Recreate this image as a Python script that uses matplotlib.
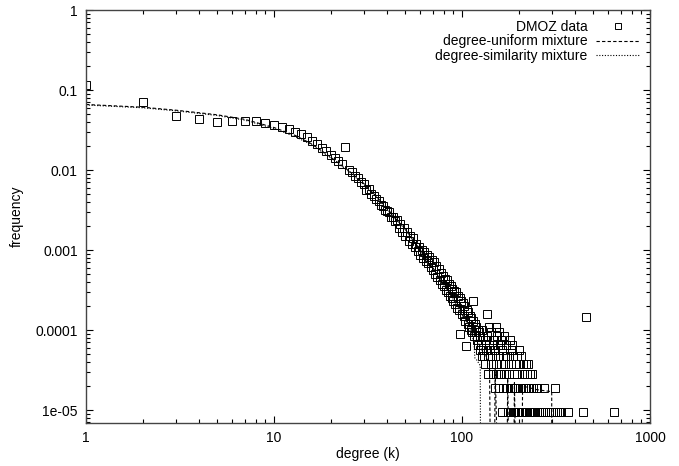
import numpy as np
import matplotlib
matplotlib.use("Agg")
import matplotlib.pyplot as plt
from matplotlib.ticker import LogLocator, FixedLocator, FixedFormatter, NullFormatter

plt.rcParams['font.family'] = ['Liberation Sans', 'DejaVu Sans']

# DMOZ degree distribution, k = 1..130
deg_main = np.arange(1, 131)
freq_main = [
    0.115, 0.070, 0.047, 0.043, 0.040, 0.041, 0.041, 0.041, 0.039, 0.037,
    0.035, 0.033, 0.030, 0.028, 0.026, 0.023, 0.021, 0.019, 0.0172, 0.0155,
    0.0142, 0.0128, 0.0118, 0.0195, 0.0101, 0.0094, 0.0085, 0.0079, 0.0071, 0.0066,
    0.0057, 0.0058, 0.0050, 0.0047, 0.0044, 0.0041, 0.0037, 0.0036, 0.0032, 0.0031,
    0.0030, 0.0026, 0.0026, 0.0023, 0.0024, 0.0019, 0.0021, 0.0017, 0.0019, 0.0015,
    0.0017, 0.0013, 0.0015, 0.0012, 0.0014, 0.0011, 0.0012, 0.00098, 0.0011, 0.00088,
    0.0010, 0.00080, 0.00095, 0.00072, 0.00086, 0.00068, 0.00082, 0.00062, 0.00076, 0.00056,
    0.00070, 0.00050, 0.00064, 0.00046, 0.00058, 0.00042, 0.00052, 0.00038, 0.00048, 0.00036,
    0.00044, 0.00032, 0.00042, 0.00030, 0.00038, 0.00027, 0.00036, 0.00025, 0.00033, 0.00023,
    0.00031, 0.00021, 0.00030, 0.00019, 0.00027, 0.00018, 0.00025, 0.000090, 0.00023, 0.00016,
    0.00022, 0.00015, 0.00020, 0.00013, 0.000063, 0.00018, 0.00012, 0.00017, 0.00011, 0.00015,
    0.00010, 0.00014, 0.000095, 0.00013, 0.00023, 0.000085, 0.00012, 0.000095, 0.00011, 0.000075,
    0.00010, 0.000066, 0.000095, 0.000057, 0.000085, 0.000066, 0.00010, 0.000047, 0.000085, 0.000057,
]

# tail: degrees sitting on each discrete frequency level
tail_levels = [9.4e-6, 1.9e-5, 2.8e-5, 3.8e-5, 4.7e-5, 5.7e-5, 6.6e-5, 7.5e-5, 8.5e-5, 9.4e-5,
               1.1e-4, 1.6e-4, 1.45e-4]
tail_degrees = [
    [163, 176, 180, 183, 186, 189, 192, 195, 198, 201, 205, 208, 212, 216, 219, 223, 227,
     231, 236, 241, 245, 250, 256, 262, 268, 275, 282, 290, 297, 305, 312, 320, 327, 335, 366, 438, 646],
    [150, 158, 165, 171, 174, 179, 185, 190, 194, 199, 204, 210, 215, 220, 226, 233, 240, 247, 252, 272, 312],
    [138, 147, 155, 160, 167, 177, 188, 196, 213, 222, 229, 236],
    [133, 143, 152, 161, 170, 182, 193, 200, 211, 218, 224],
    [131, 137, 145, 156, 166, 173, 187, 197, 206],
    [134, 141, 149, 164, 184, 202],
    [139, 146, 159, 172, 185],
    [132, 148, 162, 181],
    [136, 153, 168],
    [142, 157],
    [140, 151],
    [135],
    [457],
]

# model curves (values below the axis draw as drops)
uni_k = [1, 2, 3, 4, 5, 7, 10, 13, 16, 20, 25, 30, 35, 40, 50, 60, 70, 80, 90, 100,
         110, 120, 130, 140, 146, 150, 169, 175, 184, 190, 203, 210, 250, 300, 301]
uni_f = [0.066, 0.061, 0.056, 0.052, 0.049, 0.043, 0.034, 0.027, 0.021, 0.0145,
         0.0098, 0.0068, 0.0047, 0.0033, 0.0018, 0.00100, 0.00060, 0.00038, 0.00025, 0.00016,
         0.00011, 0.000075, 0.000052, 0.000038, 1e-9, 0.000032, 1e-9, 0.000025, 1e-9, 0.000022,
         1e-9, 0.000020, 0.000018, 0.000017, 1e-9]

sim_k = [1, 2, 3, 4, 5, 7, 10, 13, 16, 20, 25, 30, 35, 40, 50, 60, 70, 80, 90, 100,
         110, 114, 116, 117, 120, 125, 127]
sim_f = [0.065, 0.060, 0.055, 0.051, 0.048, 0.042, 0.033, 0.026, 0.0205, 0.0142,
         0.0096, 0.0066, 0.0046, 0.0032, 0.0018, 0.00098, 0.00059, 0.00037, 0.00024, 0.000155,
         0.000100, 0.000080, 0.000066, 0.000045, 0.000042, 0.000036, 1e-9]

fig = plt.figure(figsize=(6.79, 4.66), dpi=100)
ax = fig.add_axes([0.1267, 0.0923, 0.8306, 0.8862])

mk = dict(marker='s', markersize=5.8, markerfacecolor='none', markeredgecolor='black',
          markeredgewidth=0.7, linestyle='none')
ax.plot(deg_main, freq_main, label='DMOZ data', **mk)
for lev, ks in zip(tail_levels, tail_degrees):
    ax.plot(ks, [lev] * len(ks), **mk)

ax.plot(uni_k, uni_f, color='black', lw=0.8, dashes=(3, 2), label='degree-uniform mixture')
ax.plot(sim_k, sim_f, color='black', lw=0.8, dashes=(1, 1.5), label='degree-similarity mixture')

ax.set_xscale('log')
ax.set_yscale('log', nonpositive='clip')
ax.set_xlim(1, 1000)
ax.set_ylim(6.9e-6, 1)

ax.xaxis.set_major_locator(FixedLocator([1, 10, 100, 1000]))
ax.xaxis.set_major_formatter(FixedFormatter(['1', '10', '100', '1000']))
ax.yaxis.set_major_locator(FixedLocator([1e-5, 1e-4, 1e-3, 1e-2, 0.1, 1]))
ax.yaxis.set_major_formatter(FixedFormatter(['1e-05', '0.0001', '0.001', '0.01', '0.1', '1']))
ax.xaxis.set_minor_locator(LogLocator(base=10, subs=np.arange(2, 10)))
ax.yaxis.set_minor_locator(LogLocator(base=10, subs=np.arange(2, 10)))
ax.xaxis.set_minor_formatter(NullFormatter())
ax.yaxis.set_minor_formatter(NullFormatter())
ax.tick_params(which='both', direction='in', top=True, right=True, labelsize=10, width=0.8)
ax.tick_params(which='major', length=5, pad=6)
ax.tick_params(which='minor', length=3)
for s in ax.spines.values():
    s.set_linewidth(1.0)
    s.set_color('#444444')

ax.set_xlabel('degree (k)', fontsize=10, labelpad=1)
ax.set_ylabel('frequency', fontsize=10, labelpad=8)

ax.legend(loc='upper right', frameon=False, markerfirst=False, fontsize=10,
          handlelength=3.2, handletextpad=0.6, labelspacing=0.05, borderaxespad=0.3,
          markerscale=0.75)

fig.savefig('out.png', dpi=100)
